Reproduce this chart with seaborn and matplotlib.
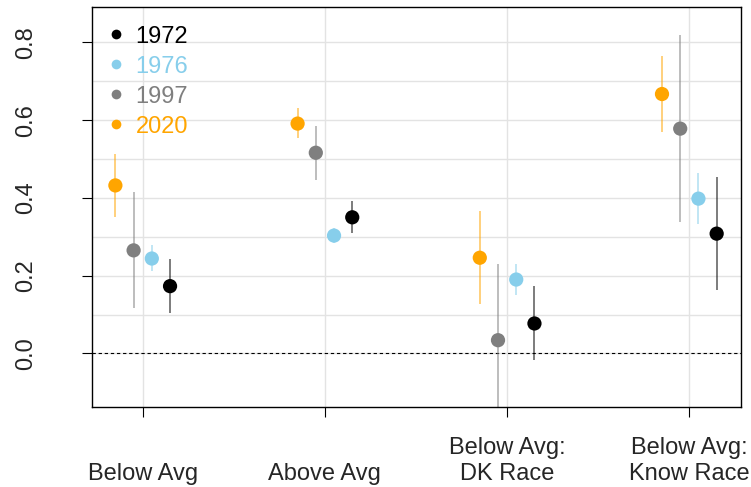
import numpy as np
import pandas as pd
import matplotlib
matplotlib.use("Agg")
import matplotlib.pyplot as plt
from matplotlib.lines import Line2D
from matplotlib.ticker import FixedLocator
import seaborn as sns

# ---- data ----
categories = ["Below Avg", "Above Avg", "Below Avg:\nDK Race", "Below Avg:\nKnow Race"]
years = ["1972", "1976", "1997", "2020"]
draw_order = ["2020", "1997", "1976", "1972"]   # left to right within a group

est_1972 = [0.173, 0.350, 0.077, 0.308]
est_1976 = [0.244, 0.303, 0.190, 0.398]
est_1997 = [0.265, 0.516, 0.034, 0.578]
est_2020 = [0.432, 0.591, 0.246, 0.667]

lo_1972 = [0.104, 0.310, -0.018, 0.162]
lo_1976 = [0.211, 0.283, 0.151, 0.334]
lo_1997 = [0.116, 0.447, -0.200, 0.338]
lo_2020 = [0.352, 0.553, 0.128, 0.569]

hi_1972 = [0.242, 0.391, 0.173, 0.454]
hi_1976 = [0.278, 0.323, 0.230, 0.463]
hi_1997 = [0.416, 0.584, 0.229, 0.820]
hi_2020 = [0.512, 0.631, 0.365, 0.765]

y_ticks = [0.0, 0.2, 0.4, 0.6, 0.8]
y_tick_labels = ["0.0", "0.2", "0.4", "0.6", "0.8"]

palette = {"1972": "#000000", "1976": "#87CEEB", "1997": "#7F7F7F", "2020": "#FFA500"}

est = {"1972": est_1972, "1976": est_1976, "1997": est_1997, "2020": est_2020}
lo = {"1972": lo_1972, "1976": lo_1976, "1997": lo_1997, "2020": lo_2020}
hi = {"1972": hi_1972, "1976": hi_1976, "1997": hi_1997, "2020": hi_2020}

offsets = dict(zip(draw_order, np.linspace(-0.15, 0.15, len(draw_order))))
rows = []
for y in draw_order:
    for i, c in enumerate(categories):
        rows.append({"year": y, "category": c, "pos": i + 1 + offsets[y],
                     "est": est[y][i], "lo": lo[y][i], "hi": hi[y][i]})
df = pd.DataFrame(rows)

# ---- style ----
sns.set_style("white")
plt.rcParams["font.family"] = ["Liberation Sans", "DejaVu Sans"]

fig = plt.figure(figsize=(7.51, 4.87), dpi=100)
ax = fig.add_axes([0.1221, 0.1649, 0.8642, 0.8201])

# grid
ax.set_axisbelow(True)
ax.yaxis.set_minor_locator(FixedLocator([0.1, 0.3, 0.5, 0.7]))
ax.grid(True, which="both", axis="y", color="#E3E3E3", linewidth=1.0)
ax.grid(True, which="major", axis="x", color="#E3E3E3", linewidth=1.0)
ax.tick_params(axis="y", which="minor", length=0)

# zero line
ax.axhline(0, color="black", linestyle=(0, (3, 2.5)), linewidth=0.8, zorder=1)

# confidence intervals
for y in draw_order:
    sub = df[df["year"] == y]
    ax.vlines(sub["pos"], sub["lo"], sub["hi"], color=palette[y], alpha=0.65,
              linewidth=1.1, zorder=2)

# points
sns.scatterplot(data=df, x="pos", y="est", hue="year", hue_order=draw_order,
                palette=palette, s=105, linewidth=0, legend=False, ax=ax, zorder=3)

ax.set_xlim(0.72, 4.282)
ax.set_ylim(-0.137, 0.890)
ax.set_xticks(range(1, len(categories) + 1))
ax.set_xticklabels(categories, fontsize=17, va="baseline", ha="center")
ax.set_yticks(y_ticks)
ax.set_yticklabels(y_tick_labels, fontsize=17, rotation=90, va="center")
ax.set_xlabel("")
ax.set_ylabel("")
ax.tick_params(axis="x", which="major", length=7.2, width=0.8, color="black",
               pad=45.4, direction="out", bottom=True)
ax.tick_params(axis="y", which="major", length=7.2, width=0.8, color="black",
               pad=32, direction="out", left=True)

for s in ax.spines.values():
    s.set_color("black")
    s.set_linewidth(1.0)

handles = [Line2D([0], [0], marker="o", linestyle="none", markersize=7,
                  markerfacecolor=palette[y], markeredgewidth=0) for y in years]
leg = ax.legend(handles, years, loc="upper left", bbox_to_anchor=(0.015, 0.966),
                frameon=False, fontsize=17, handlelength=0.8, handletextpad=0.45,
                labelspacing=0.34, borderaxespad=0, borderpad=0.2)
for t, y in zip(leg.get_texts(), years):
    t.set_color(palette[y])

fig.savefig("out.png", dpi=100)
